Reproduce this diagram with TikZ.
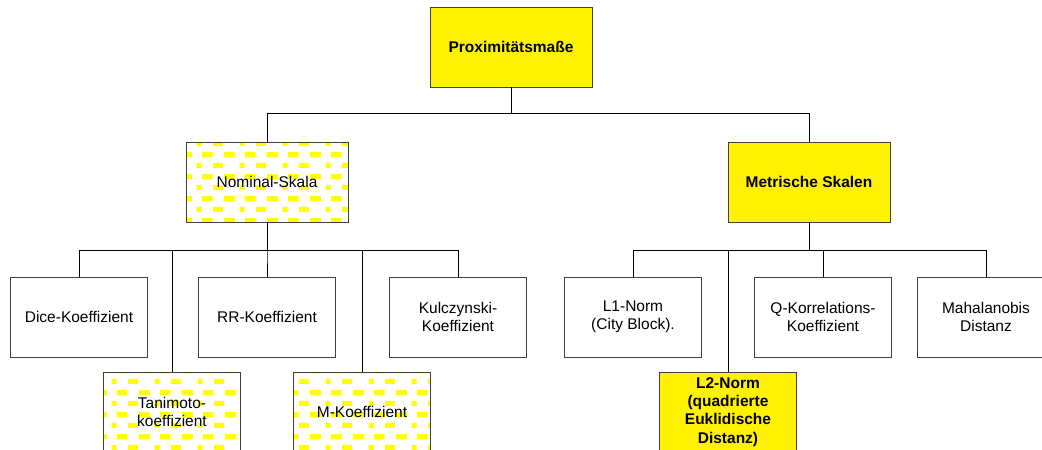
\documentclass[tikz,border=0pt]{standalone}
\usepackage{fontspec}
\setmainfont{Liberation Sans}
\usetikzlibrary{patterns}

% gelbes Ziegelmuster
\pgfdeclarepatternformonly{gelbziegel}{\pgfpointorigin}{\pgfpoint{42.7pt}{21.6pt}}{\pgfpoint{42.7pt}{21.6pt}}{%
  \pgfpathrectangle{\pgfpoint{0pt}{0pt}}{\pgfpoint{10pt}{5.2pt}}%
  \pgfpathrectangle{\pgfpoint{26.7pt}{0pt}}{\pgfpoint{5pt}{5.2pt}}%
  \pgfpathrectangle{\pgfpoint{11pt}{10.8pt}}{\pgfpoint{11pt}{5.2pt}}%
  \pgfpathrectangle{\pgfpoint{32pt}{10.8pt}}{\pgfpoint{10.7pt}{5.2pt}}%
  \pgfusepath{fill}}

\tikzset{
  kasten/.style={draw=black!75, line width=0.9pt, align=center, inner sep=2pt,
    font=\fontsize{15.5}{18.3}\selectfont, minimum width=137pt, minimum height=80pt},
  gross/.style={kasten, minimum width=162pt},
  gelb/.style={fill=yellow, font=\fontsize{15.5}{18.3}\selectfont\bfseries},
  gemustert/.style={pattern=gelbziegel, pattern color=yellow},
  ast/.style={draw, line width=0.8pt}
}

\begin{document}
\begin{tikzpicture}[x=1pt, y=-1pt]
\useasboundingbox (0,0) rectangle (1042,450);
\clip (0,0) rectangle (1042,450);
% Ebene 1 und 2
\node[gross, gelb] (prox) at (511,47) {Proximitätsmaße};
\node[gross, gemustert] (nom) at (267,182) {Nominal-Skala};
\node[gross, gelb] (met) at (809,182) {Metrische Skalen};
% Nominal-Skala
\node[kasten] (dice) at (79,317) {Dice-Koeffizient};
\node[kasten] (rr) at (267,317) {RR-Koeffizient};
\node[kasten] (kulc) at (458,317) {Kulczynski-\\Koeffizient};
\node[kasten, gemustert] (tani) at (172,412) {Tanimoto-\\koeffizient};
\node[kasten, gemustert] (mkoef) at (362,412) {M-Koeffizient};
% Metrische Skalen
\node[kasten] (leins) at (633,317) {L1-Norm\\(City Block).};
\node[kasten, gelb] (lzwei) at (728,412) {L2-Norm\\(quadrierte\\Euklidische\\Distanz)};
\node[kasten] (qkorr) at (823,317) {Q-Korrelations-\\Koeffizient};
\node[kasten] (maha) at (986,317) {Mahalanobis\\Distanz};
% Verbindungen
\draw[ast] (prox.south) -- ++(0,26) -| (nom.north);
\draw[ast] (prox.south) -- ++(0,26) -| (met.north);
\foreach \k in {dice,tani,rr,mkoef,kulc}
  \draw[ast] (nom.south) -- ++(0,28) -| (\k.north);
\foreach \k in {leins,lzwei,qkorr,maha}
  \draw[ast] (met.south) -- ++(0,28) -| (\k.north);
\end{tikzpicture}
\end{document}
